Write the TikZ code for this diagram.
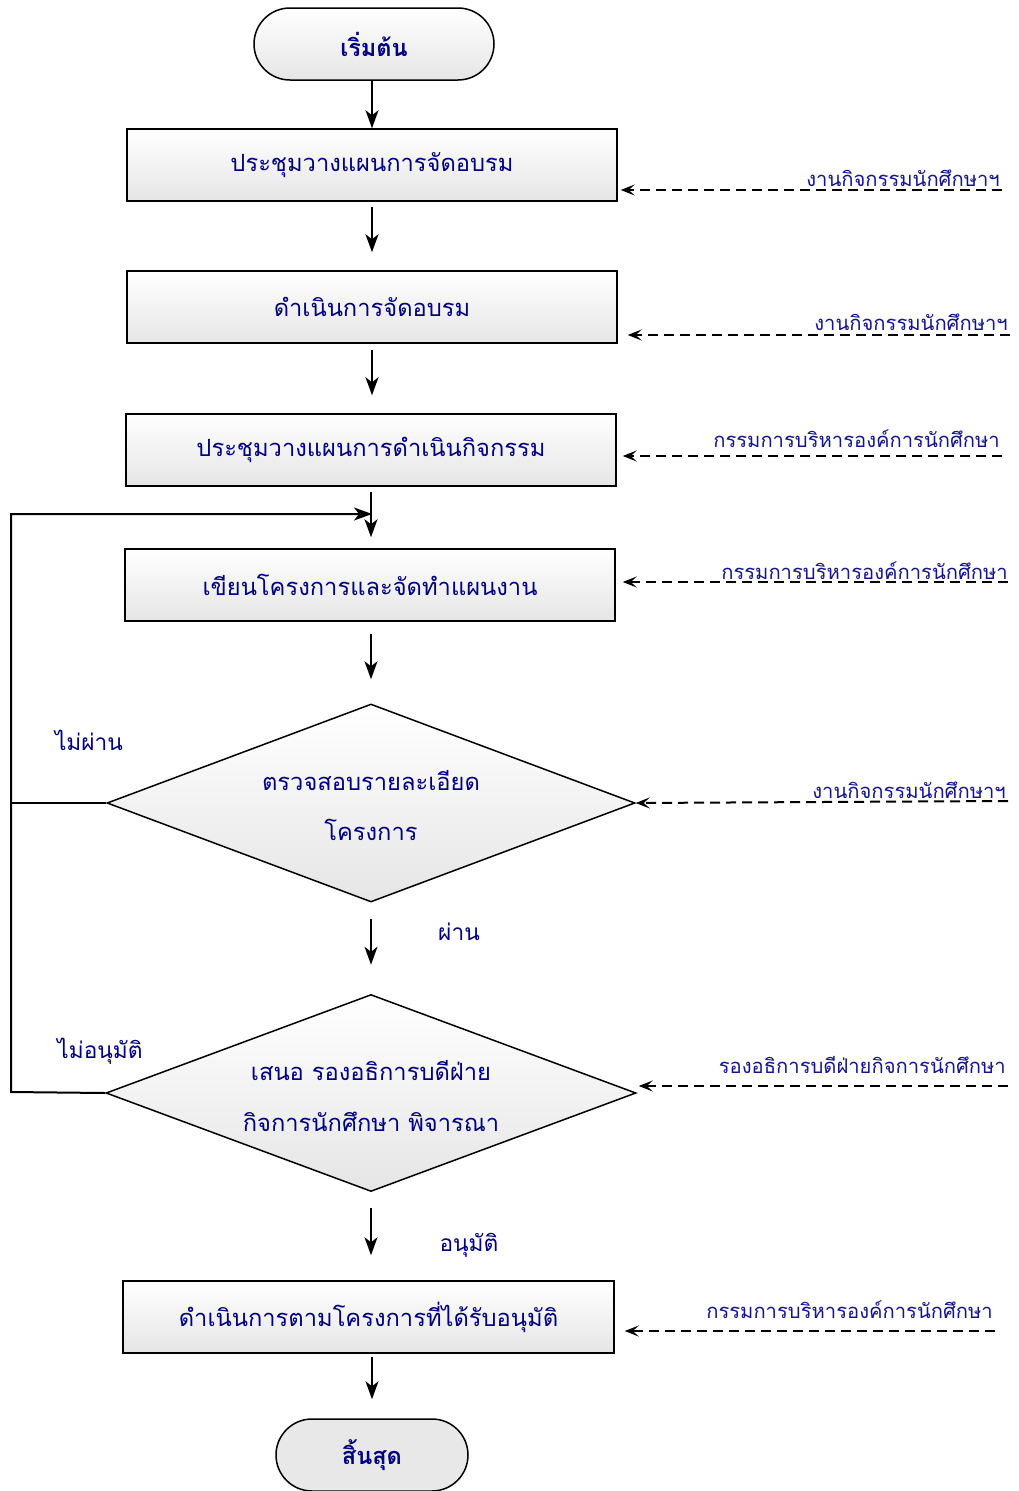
\documentclass[tikz,border=0pt]{standalone}
\usepackage{fontspec}
\newfontfamily\thaifont[Script=Thai]{Loma}
\usetikzlibrary{shapes.geometric,arrows.meta,calc}
\definecolor{tnavy}{RGB}{0,0,128}
\definecolor{lnavy}{RGB}{20,20,140}
\begin{document}
\begin{tikzpicture}[x=1pt,y=-1pt,
  boxtext/.style={font=\thaifont\fontsize{23.7}{28}\selectfont, text=tnavy},
  box/.style={draw, line width=1.5pt, minimum width=490pt, minimum height=72pt, inner sep=0pt,
     top color=white, bottom color=black!10, boxtext},
  term/.style={draw, line width=1.5pt, rounded corners=36pt, minimum height=72pt, inner sep=0pt,
     font=\thaifont\bfseries\fontsize{23.5}{28}\selectfont, text=tnavy},
  dia/.style={draw, line width=1.5pt, diamond, inner sep=0pt, text width=10pt,
     top color=white, bottom color=black!10, boxtext, align=center},
  flow/.style={line width=2pt, -{Stealth[length=18pt,width=13pt,inset=5pt]}},
  plain/.style={line width=2pt},
  dasharrow/.style={line width=2pt, dash pattern=on 10pt off 6pt, -{Stealth[length=14pt,width=11pt,inset=6pt]}},
  lbl/.style={font=\thaifont\fontsize{20.2}{24}\selectfont, text=lnavy, anchor=base east, inner sep=0pt},
  cond/.style={font=\thaifont\fontsize{22.7}{27}\selectfont, text=tnavy, inner sep=0pt}
]
\useasboundingbox (0,0) rectangle (1018,1491);

% main nodes
\node[term, minimum width=240pt, top color=white, bottom color=black!10] (start) at (374,44) {เริ่มต้น};
\node[box] (b1) at (372,165) {ประชุมวางแผนการจัดอบรม};
\node[box] (b2) at (372,307) {ดำเนินการจัดอบรม};
\node[box] (b3) at (371,450) {ประชุมวางแผนการดำเนินกิจกรรม};
\node[box] (b4) at (370,585) {เขียนโครงการและจัดทำแผนงาน};
\node[dia, minimum width=528pt, minimum height=198pt] (d1) at (371,803) {};
\node[boxtext] (d1a) at (371,781) {ตรวจสอบรายละเอียด};
\node[boxtext] (d1b) at (371,830) {โครงการ};
\node[dia, minimum width=530pt, minimum height=197pt] (d2) at (371,1093) {};
\node[boxtext] (d2a) at (371,1071) {เสนอ รองอธิการบดีฝ่าย};
\node[boxtext] (d2b) at (371,1122) {กิจการนักศึกษา พิจารณา};
\node[box, minimum width=491pt] (b5) at (368.5,1317) {ดำเนินการตามโครงการที่ได้รับอนุมัติ};
\node[term, minimum width=192pt, fill=black!9] (end) at (372,1455) {สิ้นสุด};

% flow arrows
\draw[flow] (b1.north |- start.south) -- (b1.north);
\draw[flow, shorten <=5pt, shorten >=18pt] (b1.south) -- (b2.north);
\draw[flow, shorten <=6pt, shorten >=18pt] (b2.south) -- (b3.north -| b2.south);
\draw[flow, shorten <=5pt, shorten >=11pt] (b3.south) -- (b4.north -| b3.south);
\draw[flow, shorten <=12pt, shorten >=24pt] (b4.south -| d1.north) -- (d1.north);
\draw[flow, shorten <=16pt, shorten >=29pt] (d1.south) -- (d2.north);
\draw[flow, shorten <=16pt, shorten >=25pt] (d2.south) -- (b5.north -| d2.south);
\draw[flow, shorten <=3pt, shorten >=19pt] (b5.south -| end.north) -- (end.north);

% loop back
\coordinate (lp1) at (11,1092);
\coordinate (lp2) at (11,514);
\coordinate (lp3) at (372,514);
\draw[plain] (d1.west) -- (d1.west -| lp1);
\draw[flow] (d2.west) -- (lp1) -- (lp2) -- (lp3);

% condition labels
\node[cond] (c1) at (89,740) {ไม่ผ่าน};
\node[cond] (c2) at (459,932) {ผ่าน};
\node[cond] (c3) at (100,1051) {ไม่อนุมัติ};
\node[cond] (c4) at (469,1245) {อนุมัติ};

% responsible parties
\coordinate (r1) at (1002,190);
\coordinate (r2) at (1010,335);
\coordinate (r3) at (1002,456);
\coordinate (r4) at (1008,582);
\coordinate (r5) at (1008,801);
\coordinate (r6) at (1008,1086);
\coordinate (r7) at (995,1331);
\draw[dasharrow, shorten >=3pt] (r1) -- (b1.east |- r1);
\draw[dasharrow, shorten >=10pt] (r2) -- (b2.east |- r2);
\draw[dasharrow, shorten >=6pt] (r3) -- (b3.east |- r3);
\draw[dasharrow, shorten >=7pt] (r4) -- (b4.east |- r4);
\draw[dasharrow] (r5) -- (d1.east);
\draw[dasharrow] (r6) -- ($(d2.east)+(2,-7)$);
\draw[dasharrow, shorten >=10pt] (r7) -- (b5.east |- r7);
\node[lbl] (l1) at (1000,186) {งานกิจกรรมนักศึกษาฯ};
\node[lbl] (l2) at (1008,330) {งานกิจกรรมนักศึกษาฯ};
\node[lbl] (l3) at (1000,447) {กรรมการบริหารองค์การนักศึกษา};
\node[lbl] (l4) at (1008,579) {กรรมการบริหารองค์การนักศึกษา};
\node[lbl] (l5) at (1006,798) {งานกิจกรรมนักศึกษาฯ};
\node[lbl] (l6) at (1006,1073) {รองอธิการบดีฝ่ายกิจการนักศึกษา};
\node[lbl] (l7) at (993,1318) {กรรมการบริหารองค์การนักศึกษา};
\end{tikzpicture}
\end{document}
